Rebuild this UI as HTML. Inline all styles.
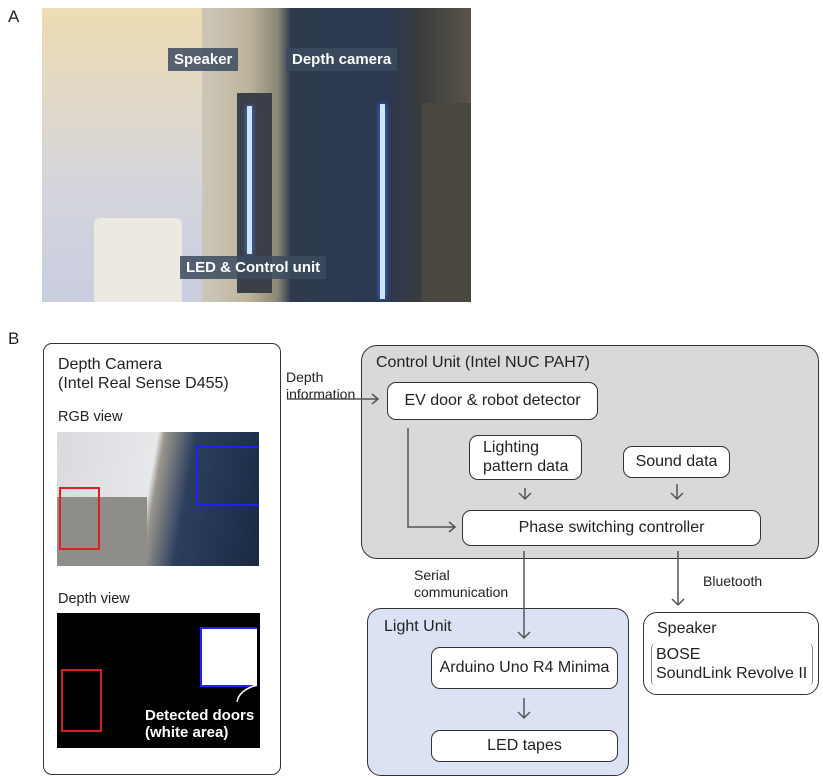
<!DOCTYPE html>
<html><head><style>
body{margin:0;width:823px;height:777px;background:#fff;position:relative;font-family:"Liberation Sans",sans-serif;color:#222;overflow:hidden}
.a{position:absolute}
.box{position:absolute;border:1.6px solid #333;border-radius:9px;background:#fff;box-sizing:border-box}
.t{position:absolute;font-size:14px;line-height:17px;white-space:nowrap}
.lbl{position:absolute;background:rgba(60,75,95,.85);color:#fff;font-weight:bold;font-size:15px;padding:3px 6px}
.f{font-size:16px}
</style></head><body>
<div class="t" style="left:8px;top:8px;font-size:17px">A</div>
<div class="t" style="left:8px;top:330px;font-size:17px">B</div>

<div class="a" style="left:42px;top:8px;width:429px;height:294px;background:linear-gradient(90deg,#e9d9b2 0%,#dcd3c4 25%,#c9c3b4 40%,#bfb49a 48%,#8a8676 55%,#2e3a4c 58%,#2b3850 80%,#3a3c3e 88%,#5a5448 100%);overflow:hidden">
 <div class="a" style="left:0;top:0;width:160px;height:294px;background:linear-gradient(180deg,#eedcb2,#d5d5dc 60%,#c8cde0)"></div>
 <div class="a" style="left:195px;top:85px;width:35px;height:200px;background:#3a3f48"></div>
 <div class="a" style="left:205px;top:98px;width:5px;height:148px;background:#cfe3ff;box-shadow:0 0 6px #3c7cff"></div>
 <div class="a" style="left:380px;top:95px;width:50px;height:200px;background:#4a4640"></div>
 <div class="a" style="left:338px;top:96px;width:5px;height:195px;background:#cfe3ff;box-shadow:0 0 6px #3c7cff"></div>
 <div class="a" style="left:52px;top:210px;width:88px;height:84px;background:#ece9e2;border-radius:6px 6px 0 0"></div>
 <div class="lbl" style="left:126px;top:40px">Speaker</div>
 <div class="lbl" style="left:244px;top:40px">Depth camera</div>
 <div class="lbl" style="left:138px;top:248px">LED &amp; Control unit</div>
</div>

<div class="box" style="left:43px;top:343px;width:238px;height:432px"></div>
<div class="t" style="left:58px;top:355px;font-size:16px;line-height:19px">Depth Camera<br>(Intel Real Sense D455)</div>
<div class="t" style="left:58px;top:409px;font-size:14.5px">RGB view</div>
<div class="a" style="left:57px;top:432px;width:202px;height:134px;background:linear-gradient(100deg,#d8dade 0%,#e6e8ea 45%,#9a968c 48%,#2c3e5e 62%,#1a2a44 100%);overflow:hidden">
 <div class="a" style="left:0;top:65px;width:90px;height:70px;background:#8e8d88"></div>
 <div class="a" style="left:2px;top:55px;width:37px;height:59px;border:2px solid #e02020"></div>
 <div class="a" style="left:139px;top:14px;width:63px;height:56px;border:2px solid #2020ff;border-right:none"></div>
</div>
<div class="t" style="left:58px;top:591px;font-size:14.5px">Depth view</div>
<div class="a" style="left:57px;top:613px;width:203px;height:135px;background:#000">
 <div class="a" style="left:4px;top:56px;width:37px;height:59px;border:2px solid #d02020"></div>
 <div class="a" style="left:143px;top:14px;width:55px;height:56px;background:#fff;border:2px solid #2020ff;border-right:none"></div>
 <div class="t" style="left:88px;top:94px;color:#fff;font-weight:bold;font-size:15px">Detected doors<br>(white area)</div>
</div>

<div class="t" style="left:286px;top:369px;font-size:14px">Depth<br>information</div>

<div class="box" style="left:361px;top:345px;width:458px;height:214px;background:#d9d9d9;border-radius:16px"></div>
<div class="t f" style="left:376px;top:354px">Control Unit (Intel NUC  PAH7)</div>
<div class="box f" style="left:387px;top:382px;width:211px;height:38px;display:flex;align-items:center;justify-content:center">EV door &amp; robot detector</div>
<div class="box f" style="left:469px;top:435px;width:113px;height:45px;padding-left:13px;line-height:19px;padding-top:2px">Lighting<br>pattern data</div>
<div class="box f" style="left:623px;top:446px;width:107px;height:32px;display:flex;align-items:center;justify-content:center">Sound data</div>
<div class="box f" style="left:462px;top:510px;width:299px;height:36px;display:flex;align-items:center;justify-content:center">Phase switching controller</div>

<div class="t" style="left:414px;top:567px;font-size:14px">Serial<br>communication</div>
<div class="t" style="left:703px;top:573px;font-size:14px">Bluetooth</div>

<div class="box" style="left:367px;top:608px;width:262px;height:168px;background:#dae2f3;border-radius:14px"></div>
<div class="t f" style="left:384px;top:618px">Light Unit</div>
<div class="box f" style="left:431px;top:647px;width:187px;height:42px;display:flex;align-items:center;justify-content:center">Arduino  Uno  R4 Minima</div>
<div class="box f" style="left:431px;top:730px;width:187px;height:32px;display:flex;align-items:center;justify-content:center">LED tapes</div>

<div class="box" style="left:643px;top:612px;width:176px;height:83px;border-radius:14px"></div>
<div class="t f" style="left:657px;top:620px">Speaker</div>
<div class="a" style="left:651px;top:643px;width:160px;height:43px;border-left:1px solid #888;border-right:1px solid #888;border-radius:5px"></div>
<div class="t f" style="left:656px;top:645px;line-height:19px">BOSE<br>SoundLink Revolve II</div>

<svg class="a" style="left:0;top:0" width="823" height="777">
 <g stroke="#555" stroke-width="1.5" fill="none">
 <path d="M287 399H378M372 394l6 5-6 5"/>
 <path d="M408 428V527H455M449 522l6 5-6 5"/>
 <path d="M525 488V499M519 493l6 6 6-6"/>
 <path d="M677 484V499M671 493l6 6 6-6"/>
 <path d="M524 551V638M518 632l6 6 6-6"/>
 <path d="M678 551V605M672 599l6 6 6-6"/>
 <path d="M524 698V718M518 712l6 6 6-6"/>
 </g>
 <path d="M237 702q2-12 20-17" stroke="#fff" stroke-width="1.5" fill="none"/>
</svg>
</body></html>
